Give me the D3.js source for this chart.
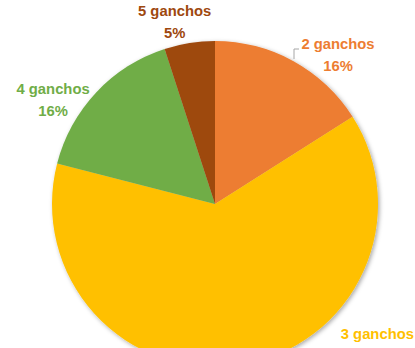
<!DOCTYPE html>
<html>
<head>
<meta charset="utf-8">
<script src="https://cdn.jsdelivr.net/npm/d3@7"></script>
<style>
  html, body { margin: 0; padding: 0; background: #fff; overflow: hidden; }
  svg { display: block; }
  text { font-family: "Liberation Sans", Arial, sans-serif; font-weight: bold; }
</style>
</head>
<body>
<svg id="chart" width="415" height="348"></svg>
<script>
// Hook counts and their share of the total (percent)
const categories = ["2 ganchos", "3 ganchos", "4 ganchos", "5 ganchos"];
const shares = [16, 63, 16, 5];
const percentLabels = ["16%", "63%", "16%", "5%"];
const colors = ["#ED7D31", "#FFC000", "#70AD47", "#9E480E"];

// Label anchor placement (polar, relative to pie centre): angle in degrees clockwise from top
const labelAngles = [38.4, 129.7, 304.3, 347.9];
const labelRadii = [198, 211, 196, 192.6];

const width = 415, height = 348;
const cx = 215, cy = 204, radius = 163;
const lineGap = 22;
const fontSize = 14.8;

const svg = d3.select("#chart");

const defs = svg.append("defs");
const shadow = defs.append("filter").attr("id", "pieShadow")
  .attr("x", "-10%").attr("y", "-10%").attr("width", "120%").attr("height", "120%");
shadow.append("feDropShadow")
  .attr("dx", 1.5).attr("dy", 1.5).attr("stdDeviation", 2.2)
  .attr("flood-color", "#000").attr("flood-opacity", 0.35);

const data = categories.map((c, i) => ({ name: c, value: shares[i], pct: percentLabels[i], color: colors[i] }));

const pie = d3.pie().value(d => d.value).sort(null);
const arc = d3.arc().innerRadius(0).outerRadius(radius);
const arcs = pie(data);

const g = svg.append("g").attr("transform", `translate(${cx},${cy})`);

g.append("g").attr("filter", "url(#pieShadow)")
  .selectAll("path")
  .data(arcs)
  .join("path")
  .attr("d", arc)
  .attr("fill", d => d.data.color);

// Small elbow leader line next to the "2 ganchos" label
const leaderAnchor = [294 - cx, 49 - cy];
g.append("path")
  .attr("d", `M${leaderAnchor[0]},${leaderAnchor[1] + 10}L${leaderAnchor[0]},${leaderAnchor[1]}L${leaderAnchor[0] + 5},${leaderAnchor[1]}`)
  .attr("fill", "none")
  .attr("stroke", "#A6A6A6")
  .attr("stroke-width", 1);

const labels = g.append("g")
  .selectAll("g")
  .data(arcs)
  .join("g")
  .attr("transform", (d, i) => {
    const p = d3.pointRadial(labelAngles[i] * Math.PI / 180, labelRadii[i]);
    return `translate(${p[0]},${p[1]})`;
  });

labels.append("text")
  .attr("text-anchor", "middle")
  .attr("font-size", fontSize)
  .attr("fill", d => d.data.color)
  .text(d => d.data.name);

labels.append("text")
  .attr("text-anchor", "middle")
  .attr("y", lineGap)
  .attr("font-size", fontSize)
  .attr("fill", d => d.data.color)
  .text(d => d.data.pct);
</script>
</body>
</html>
